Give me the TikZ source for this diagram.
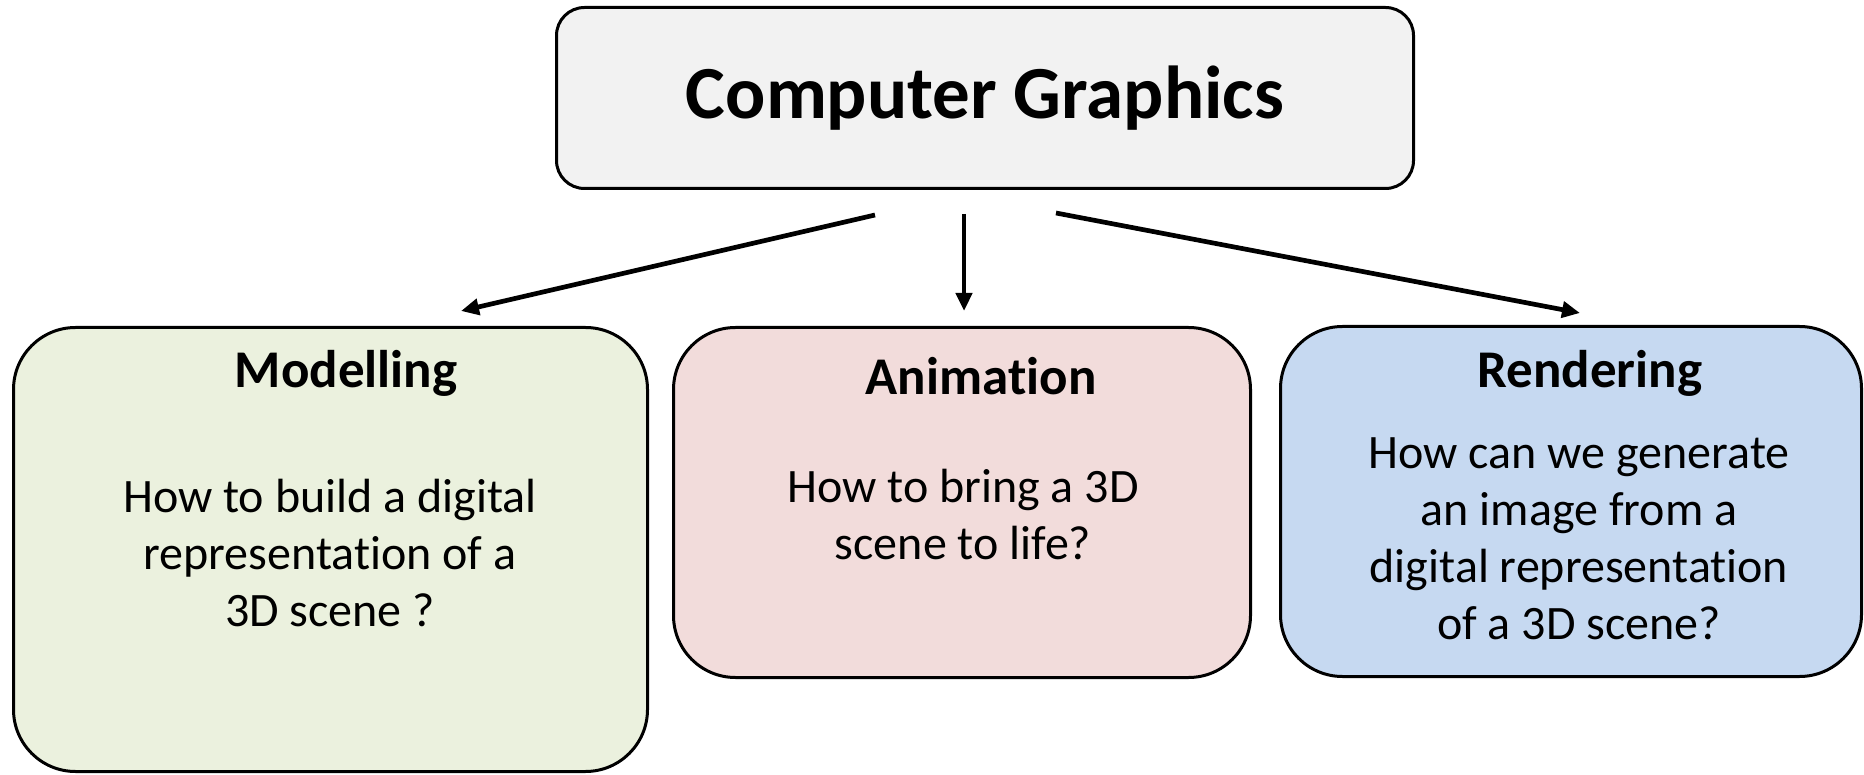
\documentclass[tikz,border=0pt]{standalone}
\usepackage{fontspec}
\usepackage{tikz}
\setmainfont{Carlito}[Ligatures = NoCommon]
\usetikzlibrary{arrows.meta}
\usetikzlibrary{positioning}
\tikzset{box/.style = {draw, line width = 3, rounded corners = 62, inner sep = 0}}
\tikzset{head/.style = {font = \bfseries\fontsize{53}{64}\selectfont}}
\tikzset{body/.style = {align = center, font = \fontsize{48}{57}\selectfont}}
\tikzset{arr/.style = {line width = 4.7, -{Triangle[length = 18, width = 16]}}}
\definecolor{cggray}{HTML}{F2F2F2}
\definecolor{mgreen}{HTML}{EBF1DE}
\definecolor{ared}{HTML}{F2DCDB}
\definecolor{rblue}{HTML}{C6D9F1}

\begin{document}
\begin{tikzpicture}[x = 1pt, y = -1pt]
      \useasboundingbox (0, 0) rectangle (1864, 775);
      \node [box, fill=cggray, rounded corners = 28, minimum width = 857, minimum height = 181] (cg) at (985, 98) {};
      \node [font = \bfseries\fontsize{75}{90}\selectfont] (cg-text) at (985, 98) {Computer Graphics};
      \node [box, fill=mgreen, minimum width = 634, minimum height = 444] (model) at (330.5, 549.5) {};
      \node [box, fill=ared, minimum width = 577, minimum height = 350] (anim) at (962, 502.5) {};
      \node [box, fill=rblue, minimum width = 581, minimum height = 350] (rend) at (1571, 501.5) {};
      \node [head] (model-head) at (346, 373) {Modelling};
      \node [head] (anim-head) at (981, 376) {Animation};
      \node [head] (rend-head) at (1590, 373) {Rendering};
      \node [body] (model-body) at (330, 553) {How to build a digital\\representation of a\\3D scene ?};
      \node [body] (anim-body) at (963, 515) {How to bring a 3D\\scene to life?};
      \node [body] (rend-body) at (1579, 539) {How can we generate\\an image from a\\digital representation\\of a 3D scene?};
      \coordinate (l-from) at (875, 215);
      \coordinate (l-to) at (461, 311);
      \coordinate (c-from) at (964, 214);
      \coordinate (c-to) at (964, 311);
      \coordinate (r-from) at (1056, 213);
      \coordinate (r-to) at (1580, 313);
      \draw [arr] (l-from) -- (l-to);
      \draw [arr] (c-from) -- (c-to);
      \draw [arr] (r-from) -- (r-to);
    \end{tikzpicture}
\end{document}
